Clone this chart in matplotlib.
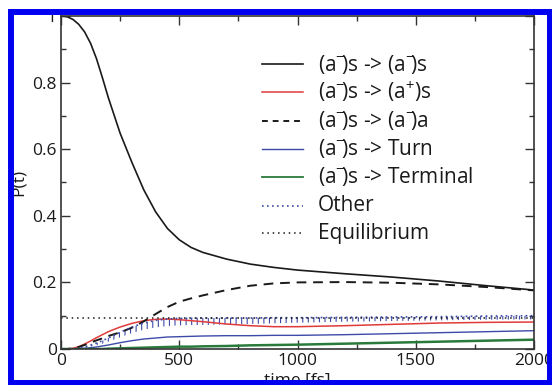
import matplotlib
matplotlib.use("Agg")
import matplotlib.pyplot as plt
from matplotlib.lines import Line2D
from matplotlib.patches import Rectangle
from matplotlib.ticker import MultipleLocator

plt.rcParams["font.family"] = ["Open Sans", "DejaVu Sans"]
plt.rcParams["mathtext.fontset"] = "custom"
plt.rcParams["mathtext.rm"] = "Open Sans"
plt.rcParams["hatch.linewidth"] = 0.8

# time grid [fs]
time_fs = [0, 25, 50, 75, 100, 125, 150, 175, 200, 250, 300, 350, 400, 450,
           500, 550, 600, 700, 800, 900, 1000, 1200, 1400, 1600, 1800, 2000]

p_ss = [1.0, 0.998, 0.99, 0.975, 0.952, 0.918, 0.872, 0.815, 0.755, 0.648,
        0.56, 0.478, 0.412, 0.362, 0.328, 0.305, 0.29, 0.27, 0.255, 0.245,
        0.237, 0.226, 0.216, 0.204, 0.19, 0.177]
p_plus = [0.0, 0.0, 0.002, 0.007, 0.015, 0.024, 0.034, 0.043, 0.052, 0.066,
          0.077, 0.085, 0.089, 0.09, 0.088, 0.085, 0.082, 0.075, 0.07, 0.067,
          0.067, 0.07, 0.074, 0.078, 0.08, 0.081]
p_sa = [0.0, 0.0, 0.002, 0.006, 0.012, 0.019, 0.026, 0.032, 0.039, 0.05,
        0.064, 0.083, 0.105, 0.126, 0.142, 0.152, 0.161, 0.177, 0.19, 0.197,
        0.2, 0.201, 0.199, 0.194, 0.186, 0.176]
p_turn = [0.0, 0.0, 0.0, 0.001, 0.002, 0.004, 0.006, 0.009, 0.012, 0.019,
          0.025, 0.03, 0.033, 0.036, 0.037, 0.038, 0.039, 0.04, 0.04, 0.041,
          0.041, 0.043, 0.046, 0.049, 0.052, 0.055]
p_term = [0.0, 0.0, 0.0, 0.0, 0.0, 0.0, 0.0, 0.0, 0.001, 0.002, 0.003,
          0.004, 0.005, 0.006, 0.007, 0.007, 0.008, 0.009, 0.011, 0.012,
          0.013, 0.016, 0.019, 0.022, 0.025, 0.028]
# "Other" oscillates quickly: upper and lower envelope of the wiggle
p_other_hi = [0.0, 0.0, 0.0, 0.002, 0.006, 0.012, 0.018, 0.025, 0.033, 0.05,
              0.066, 0.078, 0.086, 0.09, 0.092, 0.092, 0.093, 0.093, 0.093,
              0.094, 0.094, 0.095, 0.096, 0.097, 0.099, 0.1]
p_other_lo = [0.0, 0.0, 0.0, 0.001, 0.003, 0.007, 0.011, 0.016, 0.022, 0.035,
              0.048, 0.058, 0.065, 0.069, 0.071, 0.072, 0.072, 0.074, 0.075,
              0.077, 0.079, 0.082, 0.084, 0.086, 0.088, 0.089]
p_equil = 0.093

AM = r"(a$^{-}\!$)"
AP = r"(a$^{+}$)"
labels = [
    AM + "s -> " + AM + "s",
    AM + "s -> " + AP + "s",
    AM + "s -> " + AM + "a",
    AM + "s -> Turn",
    AM + "s -> Terminal",
    "Other",
    "Equilibrium",
]

RED = "#e03a3a"
BLUE = "#3c4aa8"
GREEN = "#2a7a3c"
INK = "#1a1a1a"
FRAME = "#0000f0"

fig = plt.figure(figsize=(5.52, 3.85), dpi=100)
W, H = 552, 385
ax = fig.add_axes([61 / W, 1 - 349 / H, (534 - 61) / W, (349 - 16) / H])

ax.plot(time_fs, p_ss, color=INK, lw=1.2)
ax.plot(time_fs, p_plus, color=RED, lw=1.1)
ax.plot(time_fs, p_sa, color=INK, lw=1.4, dashes=(5, 3.5))
ax.plot(time_fs, p_turn, color=BLUE, lw=1.0)
ax.plot(time_fs, p_term, color=GREEN, lw=1.8)
ax.fill_between(time_fs, p_other_lo, p_other_hi, facecolor="none",
                edgecolor=BLUE, hatch="|||", linewidth=0)
ax.plot(time_fs, p_other_hi, color=BLUE, lw=1.2, ls=(0, (1, 2)))
ax.axhline(p_equil, color=INK, lw=1.1, ls=(0, (1, 2.5)))

ax.set_xlim(0, 2000)
ax.set_ylim(0, 1)
ax.xaxis.set_minor_locator(MultipleLocator(250))
ax.yaxis.set_minor_locator(MultipleLocator(0.1))
ax.set_xticks([0, 500, 1000, 1500, 2000], ["0", "500", "1000", "1500", "2000"])
ax.set_yticks([0, 0.2, 0.4, 0.6, 0.8, 1.0], ["0", "0.2", "0.4", "0.6", "0.8", "1"])
ax.tick_params(which="both", direction="in", top=True, right=True,
               width=1.0, color="#333333", labelsize=12.5, labelcolor=INK)
ax.tick_params(which="major", length=6.5, pad=3)
ax.tick_params(which="minor", length=3.6)
for s in ax.spines.values():
    s.set_color("#333333")
    s.set_linewidth(1.2)

ax.set_xlabel("time [fs]", fontsize=12.5, color=INK, labelpad=3)
ax.set_ylabel("P(t)", fontsize=12.5, color=INK, labelpad=4)

# legend drawn by hand so the rows stay evenly spaced
styles = [
    dict(color=INK, lw=1.2),
    dict(color=RED, lw=1.1),
    dict(color=INK, lw=1.4, dashes=(3, 2.5)),
    dict(color=BLUE, lw=1.0),
    dict(color=GREEN, lw=1.3),
    dict(color=BLUE, lw=1.2, ls=(0, (1, 2))),
    dict(color=INK, lw=1.1, ls=(0, (1, 2.5))),
]
row_y = [64, 92, 120.5, 149, 177, 205.5, 233]
for py, lab, st in zip(row_y, labels, styles):
    ya = (349 - py) / 333
    ax.add_line(Line2D([(262 - 61) / 473, (303 - 61) / 473], [ya, ya],
                       transform=ax.transAxes, **st))
    ax.text((318 - 61) / 473, ya, lab, transform=ax.transAxes,
            ha="left", va="center", fontsize=15, color=INK)

# blue border around the whole picture
fig.patches.append(Rectangle((11 / W, 1 - 383 / H), (550 - 11) / W, (383 - 12) / H,
                             transform=fig.transFigure, fill=False,
                             edgecolor=FRAME, linewidth=4.3, zorder=10))

fig.savefig("out.png", dpi=100, facecolor="white")
